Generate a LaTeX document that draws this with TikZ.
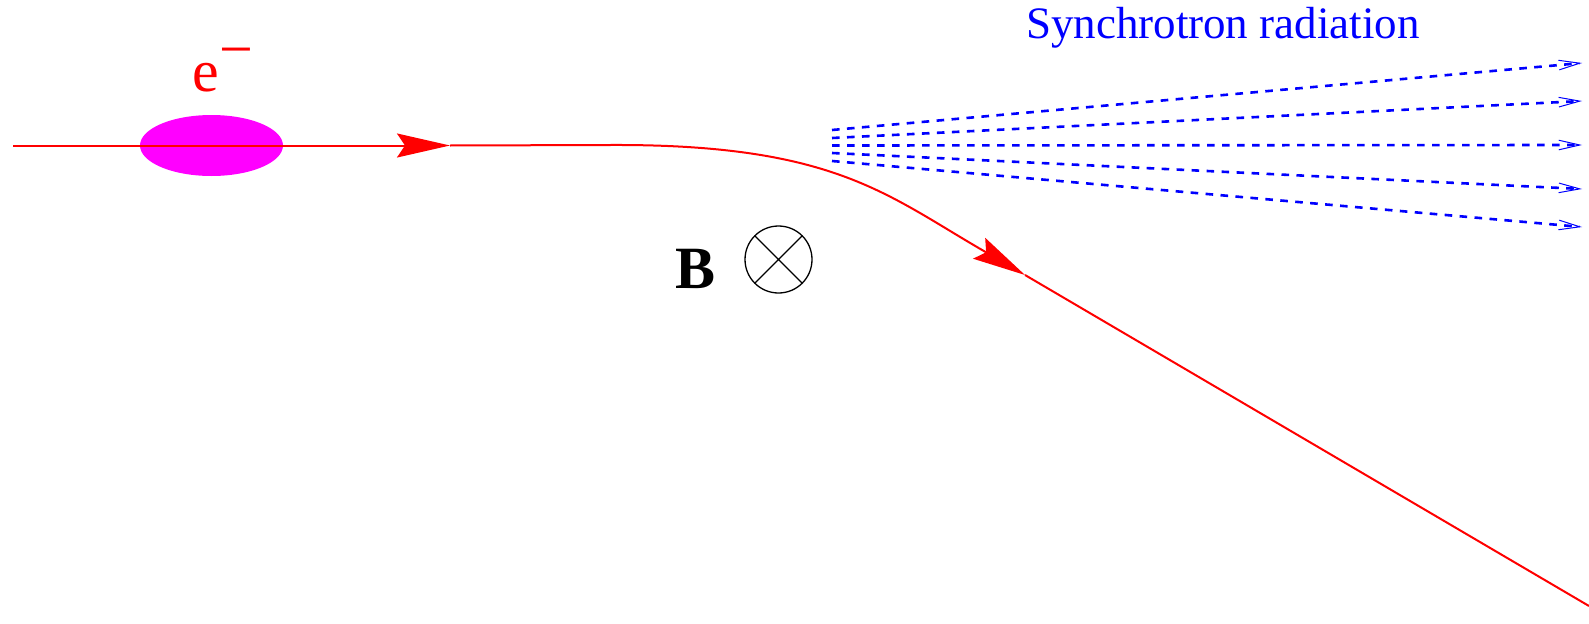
\documentclass[tikz,border=0pt]{standalone}
\usepackage{fontspec}
\setmainfont{Liberation Serif}
\usetikzlibrary{arrows.meta}
\definecolor{bunchpink}{RGB}{255,0,255}

\begin{document}
\begin{tikzpicture}[x=0.5pt,y=0.5pt,
    line cap=butt, line join=miter,
    every node/.style={inner sep=0pt,outer sep=0pt},
    beam/.style={red,line width=1pt},
    beamtip/.style={-{Stealth[length=26.5pt,width=12pt,inset=4pt]}},
    ray/.style={blue,line width=1.3pt,dash pattern=on 3.8pt off 3.7pt,
      -{Straight Barb[length=10.5pt,width=4.8pt,line width=0.5pt]}},
    lab/.style={font=\fontsize{30}{36}\selectfont}]
  \useasboundingbox (0,0) rectangle (1589,623);
  % ---- 电子束团 ----
  \fill[bunchpink] (211.5,477.5) ellipse [x radius=71.5,y radius=30.5];
  % ---- 轨道点 ----
  \coordinate (S)  at (  13,477.5);
  \coordinate (T1) at ( 450,477.5);
  \coordinate (K)  at ( 610,478);
  \coordinate (K1) at ( 830,479);
  \coordinate (K2) at (884.2,430.1);
  \coordinate (Q)  at (979.2,374.7);
  \coordinate (T2) at (1025,348);
  \coordinate (E)  at (1589,17);
  % ---- 红线·电子轨道 ----
  \draw[beam,beamtip] (S)--(T1);
  \draw[beam] (T1)--(K) .. controls (K1) and (K2) .. (Q);
  \draw[beam,beamtip] (Q)--(T2);
  \draw[beam] (T2)--(E);
  % ---- 蓝虚线·同步辐射（5 条）----
  \draw[ray] (832,493)--(1582,560);
  \draw[ray] (832,485)--(1582,522);
  \draw[ray] (832,477.5)--(1582,478);
  \draw[ray] (832,470)--(1582,434);
  \draw[ray] (832,462)--(1582,396);
  % ---- 磁场 B（垂直纸面向里）----
  \coordinate (O) at (778.5,363.5);
  \draw[line width=0.65pt] (O) circle [radius=33.5]
    (O) ++(45:33.5) -- ++(225:67)
    (O) ++(135:33.5) -- ++(315:67);
  % ---- 标签 ----
  \node[lab,red,anchor=base west] (elab) at (192.5,531) {e\raisebox{11pt}{−}};
  \node[lab,anchor=base west] (Blab) at (675,335) {\bfseries B};
  \node[font=\fontsize{22.5}{27}\selectfont,blue,anchor=base west] (srlab) at (1026,585) {Synchrotron radiation};
\end{tikzpicture}
\end{document}
